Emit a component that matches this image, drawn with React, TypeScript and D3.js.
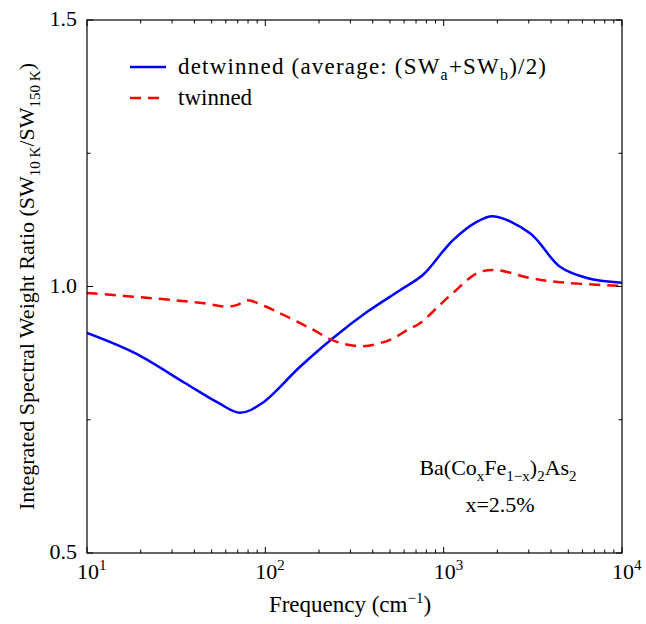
import React from "react";
import * as d3 from "d3";

// frequency (cm^-1) and spectral weight ratio
const blueFreq = [10, 18.6, 35.4, 54.3, 72.1, 95.7, 156, 239, 371, 569, 766, 991, 1128, 1550, 1891, 3050, 4490, 6360, 10000];
const blueRatio = [0.913, 0.875, 0.819, 0.782, 0.763, 0.781, 0.849, 0.903, 0.952, 0.993, 1.022, 1.066, 1.087, 1.122, 1.132, 1.1, 1.037, 1.016, 1.007];

const redFreq = [10, 23.1, 44.2, 61.8, 70.3, 78.9, 99.6, 126, 178, 252, 353, 500, 623, 736, 950, 1128, 1540, 1950, 3050, 4490, 10000];
const redRatio = [0.988, 0.978, 0.969, 0.962, 0.966, 0.974, 0.963, 0.947, 0.922, 0.896, 0.888, 0.9, 0.918, 0.931, 0.965, 0.988, 1.025, 1.031, 1.016, 1.008, 1.001];

const yMajor = [0.5, 1.0, 1.5];
const yMinor = [0.75, 1.25];
const xMajor = [10, 100, 1000, 10000];
const xExp = ["1", "2", "3", "4"];

const font = "'Liberation Serif', 'Times New Roman', serif";

const App = () => {
  const width = 646;
  const height = 624;
  const left = 87, right = 622, top = 20, bottom = 553;

  const x = d3.scaleLog().domain([10, 10000]).range([left, right]);
  const y = d3.scaleLinear().domain([0.5, 1.5]).range([bottom, top]);

  const xMinor: number[] = [];
  for (let d = 10; d < 10000; d *= 10) {
    for (let k = 2; k <= 9; k++) xMinor.push(d * k);
  }

  const line = d3
    .line<[number, number]>()
    .x((d) => x(d[0]))
    .y((d) => y(d[1]))
    .curve(d3.curveCatmullRom.alpha(0.5));

  const blue = line(blueFreq.map((f, i) => [f, blueRatio[i]] as [number, number])) || "";
  const red = line(redFreq.map((f, i) => [f, redRatio[i]] as [number, number])) || "";

  const tickStyle = { stroke: "#000", strokeWidth: 1 };
  const fs = 22;
  const sub = 15;

  return (
    <svg width={width} height={height} style={{ position: "absolute", left: 0, top: 0, background: "#fff" }} fontFamily={font}>
      <defs>
        <clipPath id="plot">
          <rect x={left} y={top} width={right - left} height={bottom - top} />
        </clipPath>
      </defs>
      <g clipPath="url(#plot)">
        <path d={blue} fill="none" stroke="#0000ff" strokeWidth={2.5} />
        <path d={red} fill="none" stroke="#ff0000" strokeWidth={2.5} strokeDasharray="11,7" />
      </g>

      {/* ticks */}
      {xMajor.map((v) => (
        <g key={"xM" + v}>
          <line x1={x(v)} x2={x(v)} y1={bottom} y2={bottom - 6} {...tickStyle} />
          <line x1={x(v)} x2={x(v)} y1={top} y2={top + 6} {...tickStyle} />
        </g>
      ))}
      {xMinor.map((v) => (
        <g key={"xm" + v}>
          <line x1={x(v)} x2={x(v)} y1={bottom} y2={bottom - 3.5} {...tickStyle} />
          <line x1={x(v)} x2={x(v)} y1={top} y2={top + 3.5} {...tickStyle} />
        </g>
      ))}
      {yMajor.map((v) => (
        <g key={"yM" + v}>
          <line x1={left} x2={left + 6} y1={y(v)} y2={y(v)} {...tickStyle} />
          <line x1={right} x2={right - 6} y1={y(v)} y2={y(v)} {...tickStyle} />
        </g>
      ))}
      {yMinor.map((v) => (
        <g key={"ym" + v}>
          <line x1={left} x2={left + 3.5} y1={y(v)} y2={y(v)} {...tickStyle} />
          <line x1={right} x2={right - 3.5} y1={y(v)} y2={y(v)} {...tickStyle} />
        </g>
      ))}

      <rect x={left} y={top} width={right - left} height={bottom - top} fill="none" stroke="#000" strokeWidth={1.2} />

      {/* tick labels */}
      {yMajor.map((v) => (
        <text key={"yl" + v} x={left - 10} y={y(v) + 6} fontSize={fs} textAnchor="end">
          {v.toFixed(1)}
        </text>
      ))}
      {xMajor.map((v, i) => (
        <text key={"xl" + v} x={x(v) - 10} y={bottom + 26} fontSize={fs}>
          10<tspan dy={-9} fontSize={sub}>{xExp[i]}</tspan>
        </text>
      ))}

      {/* axis titles */}
      <text x={350} y={612} fontSize={fs + 1} textAnchor="middle">
        Frequency (cm<tspan dy={-9} fontSize={sub}>−1</tspan><tspan dy={9}>)</tspan>
      </text>
      <text transform={`translate(34, ${(top + bottom) / 2}) rotate(-90)`} fontSize={fs} textAnchor="middle">
        Integrated Spectral Weight Ratio (SW<tspan dy={6} fontSize={sub}>10 K</tspan>
        <tspan dy={-6}>/SW</tspan><tspan dy={6} fontSize={sub}>150 K</tspan><tspan dy={-6}>)</tspan>
      </text>

      {/* legend */}
      <line x1={130} x2={166} y1={67} y2={67} stroke="#0000ff" strokeWidth={2.5} />
      <text x={178} y={74} fontSize={23} textLength={368} lengthAdjust="spacing">
        detwinned (average: (SW<tspan dy={6} fontSize={16}>a</tspan><tspan dy={-6}>+SW</tspan>
        <tspan dy={6} fontSize={16}>b</tspan><tspan dy={-6}>)/2)</tspan>
      </text>
      <line x1={130} x2={166} y1={98} y2={98} stroke="#ff0000" strokeWidth={2.5} strokeDasharray="11,7" />
      <text x={178} y={105} fontSize={23}>twinned</text>

      {/* annotation */}
      <text x={498} y={475} fontSize={fs} textAnchor="middle">
        Ba(Co<tspan dy={6} fontSize={sub}>x</tspan><tspan dy={-6}>Fe</tspan>
        <tspan dy={6} fontSize={sub}>1−x</tspan><tspan dy={-6}>)</tspan>
        <tspan dy={6} fontSize={sub}>2</tspan><tspan dy={-6}>As</tspan>
        <tspan dy={6} fontSize={sub}>2</tspan>
      </text>
      <text x={500} y={512} fontSize={fs} textAnchor="middle">x=2.5%</text>
    </svg>
  );
};

export default App;
